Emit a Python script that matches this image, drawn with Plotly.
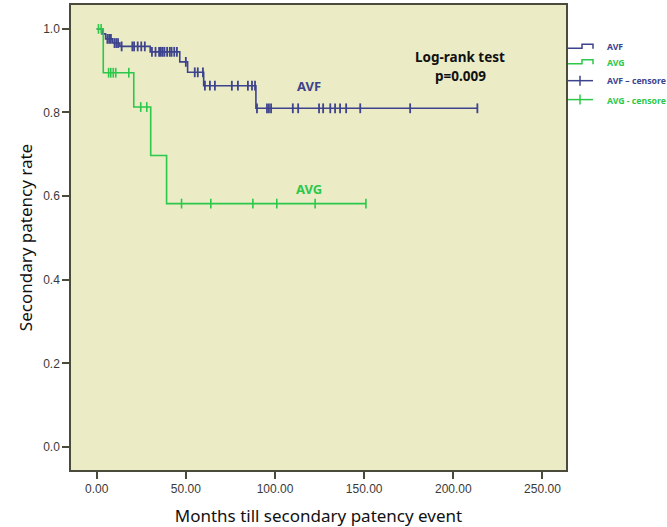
import plotly.graph_objects as go

# Kaplan-Meier step data: event times (months) and survival after each step
avf_time = [0, 3.0, 5.0, 9.0, 13.0, 30.0, 46.6, 51.0, 60.0, 89.3, 213.5]
avf_surv = [1.0, 0.988, 0.976, 0.966, 0.958, 0.945, 0.921, 0.896, 0.864, 0.810, 0.810]

avg_time = [0, 3.7, 20.8, 30.3, 39.2, 151.0]
avg_surv = [1.0, 0.895, 0.813, 0.697, 0.582, 0.582]

# censored observations (time, survival at that time)
avf_cens_time = [6.0, 7.0, 8.0, 10.0, 11.0, 12.0, 14.0, 20.0, 21.0, 23.0, 25.0, 27.0,
                 31.0, 33.0, 35.0, 36.0, 37.0, 38.0, 39.5, 41.0, 42.0, 43.5, 45.0,
                 50.0, 55.0, 56.7, 59.6,
                 60.7, 63.5, 66.3, 75.8, 79.2, 84.8, 87.1, 88.8,
                 89.9, 95.5, 96.6, 97.8, 110.0, 113.0, 124.7, 127.0, 131.0, 133.7,
                 136.5, 139.9, 147.8, 175.8, 213.5]
avf_cens_surv = [0.976, 0.976, 0.976, 0.966, 0.966, 0.966, 0.958, 0.958, 0.958, 0.958, 0.958, 0.958,
                 0.945, 0.945, 0.945, 0.945, 0.945, 0.945, 0.945, 0.945, 0.945, 0.945, 0.945,
                 0.921, 0.896, 0.896, 0.896,
                 0.864, 0.864, 0.864, 0.864, 0.864, 0.864, 0.864, 0.864,
                 0.810, 0.810, 0.810, 0.810, 0.810, 0.810, 0.810, 0.810, 0.810, 0.810,
                 0.810, 0.810, 0.810, 0.810, 0.810]

avg_cens_time = [1.0, 2.5, 6.7, 7.9, 9.3, 10.7, 18.0, 24.7, 28.1,
                 47.6, 64.0, 87.6, 101.0, 122.5, 151.0]
avg_cens_surv = [1.0, 1.0, 0.895, 0.895, 0.895, 0.895, 0.895, 0.813, 0.813,
                 0.582, 0.582, 0.582, 0.582, 0.582, 0.582]

x_ticks = [0, 50, 100, 150, 200, 250]
x_tick_text = ["0.00", "50.00", "100.00", "150.00", "200.00", "250.00"]
y_ticks = [0.0, 0.2, 0.4, 0.6, 0.8, 1.0]
y_tick_text = ["0.0", "0.2", "0.4", "0.6", "0.8", "1.0"]

AVF_COLOR = "#3d438c"
AVG_COLOR = "#2cc84a"
FRAME = "#4b4b3c"

fig = go.Figure()
fig.add_trace(go.Scatter(x=avf_time, y=avf_surv, mode="lines", line_shape="hv",
                         line=dict(color=AVF_COLOR, width=1.6), name="AVF"))
fig.add_trace(go.Scatter(x=avg_time, y=avg_surv, mode="lines", line_shape="hv",
                         line=dict(color=AVG_COLOR, width=1.6), name="AVG"))
fig.add_trace(go.Scatter(x=avf_cens_time, y=avf_cens_surv, mode="markers",
                         marker=dict(symbol="line-ns", size=7,
                                     line=dict(color=AVF_COLOR, width=1.8)),
                         name="AVF - censored"))
fig.add_trace(go.Scatter(x=avg_cens_time, y=avg_cens_surv, mode="markers",
                         marker=dict(symbol="line-ns", size=7,
                                     line=dict(color=AVG_COLOR, width=1.6)),
                         name="AVG - censored"))

W, H = 667, 527
L, R, T, B = 71, 101, 3, 57


def to_paper_x(xpix):
    return (xpix - L) / (W - L - R)


def to_paper_y(ypix):
    return (H - B - ypix) / (H - T - B)


# legend glyphs drawn outside the plot: step icons and censor ticks
legend_shapes = []
for y0, col in [(46.5, AVF_COLOR), (62.0, AVG_COLOR)]:
    pts = [(568, y0), (582, y0), (582, y0 - 4), (593, y0 - 4), (593, y0 + 0.5)]
    path = "M " + " L ".join(f"{to_paper_x(a):.5f},{to_paper_y(b):.5f}" for a, b in pts)
    legend_shapes.append(dict(type="path", xref="paper", yref="paper", path=path,
                              line=dict(color=col, width=1.5)))
for y0, col in [(79.0, AVF_COLOR), (98.0, AVG_COLOR)]:
    legend_shapes.append(dict(type="line", xref="paper", yref="paper",
                              x0=to_paper_x(568), x1=to_paper_x(593),
                              y0=to_paper_y(y0), y1=to_paper_y(y0),
                              line=dict(color=col, width=1.5)))
    legend_shapes.append(dict(type="line", xref="paper", yref="paper",
                              x0=to_paper_x(580), x1=to_paper_x(580),
                              y0=to_paper_y(y0 - 5), y1=to_paper_y(y0 + 5),
                              line=dict(color=col, width=1.5)))

legend_text = [("AVF", 45.5, AVF_COLOR), ("AVG", 61.0, AVG_COLOR),
               ("AVF – censore", 79.0, AVF_COLOR), ("AVG - censore", 99.0, AVG_COLOR)]
annotations = []
for txt, yy, col in legend_text:
    annotations.append(dict(xref="paper", yref="paper", x=to_paper_x(605), y=to_paper_y(yy),
                            text=f"<b>{txt}</b>", showarrow=False, xanchor="left",
                            yanchor="middle",
                            font=dict(family="Noto Sans", size=8.7, color=col)))

annotations += [
    dict(x=204, y=0.933, text="<b>Log-rank test</b>", showarrow=False,
         font=dict(family="Noto Sans", size=13.5, color="#111111")),
    dict(x=204, y=0.887, text="<b>p=0.009</b>", showarrow=False,
         font=dict(family="Noto Sans", size=13.5, color="#111111")),
    dict(x=119, y=0.863, text="<b>AVF</b>", showarrow=False,
         font=dict(family="Noto Sans", size=13, color=AVF_COLOR)),
    dict(x=119, y=0.617, text="<b>AVG</b>", showarrow=False,
         font=dict(family="Noto Sans", size=13, color=AVG_COLOR)),
]

fig.update_layout(
    width=W, height=H,
    margin=dict(l=L, r=R, t=T, b=B),
    paper_bgcolor="white",
    plot_bgcolor="#ebebc6",
    showlegend=False,
    shapes=legend_shapes,
    annotations=annotations,
    xaxis=dict(range=[-14.4, 263.2], tickvals=x_ticks, ticktext=x_tick_text,
               ticks="outside", ticklen=7, tickcolor=FRAME, tickwidth=1.5,
               showline=True, linecolor=FRAME, linewidth=1.5, mirror=True,
               showgrid=False, zeroline=False,
               tickfont=dict(family="Liberation Sans Narrow, Liberation Sans", size=12, color="#3a3a3a"),
               title=dict(text="Months till secondary patency event", standoff=16,
                          font=dict(family="Noto Sans", size=17, color="#111111"))),
    yaxis=dict(range=[-0.055, 1.057], tickvals=y_ticks, ticktext=y_tick_text,
               ticks="outside", ticklen=7, tickcolor=FRAME, tickwidth=1.5,
               showline=True, linecolor=FRAME, linewidth=1.5, mirror=True,
               showgrid=False, zeroline=False,
               tickfont=dict(family="Liberation Sans Narrow, Liberation Sans", size=12, color="#3a3a3a"),
               title=dict(text="Secondary patency rate", standoff=6,
                          font=dict(family="Noto Sans", size=17, color="#111111"))),
)

fig.write_html("out.html")
